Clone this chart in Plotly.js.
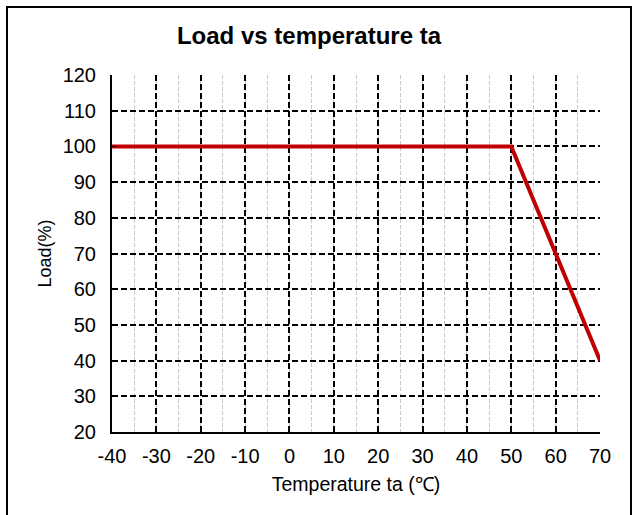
<!DOCTYPE html>
<html>
<head>
<meta charset="utf-8">
<script src="https://cdn.plot.ly/plotly-3.0.1.min.js"></script>
<style>
  html, body { margin: 0; padding: 0; background: #fff; }
  #wrap { position: relative; width: 633px; height: 515px; overflow: hidden; }
  #frame { position: absolute; left: 6px; top: 6px; width: 626px; height: 530px; border: 2px solid #000; box-sizing: border-box; pointer-events: none; }
  #chart { position: absolute; left: 0; top: 0; width: 633px; height: 515px; }
</style>
</head>
<body>
<div id="wrap">
  <div id="chart"></div>
  <div id="frame"></div>
</div>
<script>
const temperature = [-40, 50, 70];
const load = [100, 100, 40];
const xTicks = [-40, -30, -20, -10, 0, 10, 20, 30, 40, 50, 60, 70];
const yTicks = [20, 30, 40, 50, 60, 70, 80, 90, 100, 110, 120];

const font = 'Liberation Sans, Arial, sans-serif';

const trace = {
  x: temperature, y: load, type: 'scatter', mode: 'lines',
  line: { color: '#C00000', width: 4 },
  hoverinfo: 'skip', showlegend: false
};

const layout = {
  width: 633, height: 515,
  margin: { l: 112, r: 33, t: 75, b: 83 },
  paper_bgcolor: '#fff', plot_bgcolor: '#fff',
  font: { family: font, color: '#000' },
  title: {
    text: '<b>Load vs temperature ta</b>',
    font: { family: font, size: 24, color: '#000' },
    x: 309 / 633, xref: 'container', xanchor: 'center',
    y: 1 - 36 / 515, yref: 'container', yanchor: 'middle'
  },
  xaxis: {
    range: [-40, 70], tickvals: xTicks, ticktext: xTicks.map(String),
    showline: true, linecolor: '#000', linewidth: 2,
    ticks: 'inside', ticklen: 4, tickcolor: '#000', tickwidth: 1.5,
    showgrid: true, gridcolor: '#000', gridwidth: 2, griddash: '6px,3px',
    zeroline: false,
    minor: { dtick: 5, tick0: -40, showgrid: true, gridcolor: '#c8c8c8', gridwidth: 1, griddash: '4px,2px', ticks: '' },
    tickfont: { family: font, size: 20, color: '#000' },
    ticklabelstandoff: 5,
    title: { text: 'Temperature ta (℃)', font: { family: font, size: 19.5, color: '#000' }, standoff: 11 },
    automargin: false
  },
  yaxis: {
    range: [20, 120], tickvals: yTicks, ticktext: yTicks.map(String),
    showline: true, linecolor: '#000', linewidth: 2,
    ticks: 'inside', ticklen: 4, tickcolor: '#000', tickwidth: 1.5,
    showgrid: true, gridcolor: '#000', gridwidth: 2, griddash: '6px,3px',
    zeroline: false,
    tickfont: { family: font, size: 20, color: '#000' },
    ticklabelstandoff: 10,
    title: { text: 'Load(%)', font: { family: font, size: 18, color: '#000' }, standoff: 6 },
    automargin: false
  }
};

Plotly.newPlot('chart', [trace], layout, { displayModeBar: false, staticPlot: true });
</script>
</body>
</html>
